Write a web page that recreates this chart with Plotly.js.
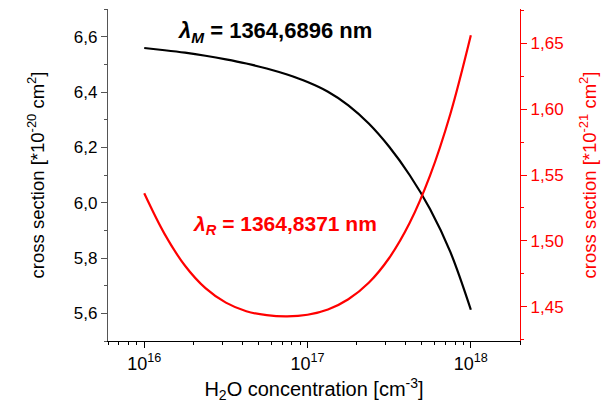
<!DOCTYPE html>
<html>
<head>
<meta charset="utf-8">
<script src="https://cdn.plot.ly/plotly-3.0.1.min.js"></script>
<style>html,body{margin:0;padding:0;background:#fff;}#chart{width:611px;height:404px;}</style>
</head>
<body>
<div id="chart"></div>
<script>
// H2O concentration [cm^-3]
const concentration = [1e16, 1.334e16, 1.778e16, 2.371e16, 3.162e16, 4.217e16, 5.623e16, 7.499e16,
  1e17, 1.334e17, 1.778e17, 2.371e17, 3.162e17, 4.217e17, 5.623e17, 7.499e17, 1e18];
// cross section at lambda_M [1e-20 cm^2] (left axis)
const sigmaM = [6.559, 6.551, 6.542, 6.531, 6.518, 6.503, 6.485, 6.463,
  6.436, 6.401, 6.352, 6.286, 6.202, 6.100, 5.977, 5.821, 5.613];
// cross section at lambda_R [1e-21 cm^2] (right axis)
const sigmaR = [1.5361, 1.5051, 1.4811, 1.4641, 1.4531, 1.4466, 1.4436, 1.4427,
  1.4439, 1.4479, 1.4557, 1.4682, 1.4870, 1.5135, 1.5495, 1.5965, 1.656];

const xTickVals = [1e16, 1e17, 1e18];
const xTickText = ['10<sup>16</sup>', '10<sup>17</sup>', '10<sup>18</sup>'];
const labelM = '<i>λ<sub>M</sub></i> = 1364,6896 nm';
const labelR = '<i>λ<sub>R</sub></i> = 1364,8371 nm';

const minorX = [];
[15, 16, 17, 18].forEach(function (e) {
  for (let m = 2; m <= 9; m++) {
    const v = m * Math.pow(10, e);
    if (v >= 6e15 && v <= 2e18) minorX.push(v);
  }
});

const font = 'Liberation Sans, Arial, sans-serif';

const traces = [
  {x: concentration, y: sigmaM, type: 'scatter', mode: 'lines',
   line: {color: '#000000', width: 2.2, shape: 'spline', smoothing: 1}, yaxis: 'y', hoverinfo: 'none'},
  {x: concentration, y: sigmaR, type: 'scatter', mode: 'lines',
   line: {color: '#ff0000', width: 2.2, shape: 'spline', smoothing: 1}, yaxis: 'y2', hoverinfo: 'none'}
];

const layout = {
  width: 611, height: 404,
  margin: {l: 108, r: 91, t: 9, b: 63},
  paper_bgcolor: '#ffffff', plot_bgcolor: '#ffffff',
  separators: ', ',
  showlegend: false,
  font: {family: font, size: 17, color: '#000'},
  xaxis: {
    type: 'log', range: [Math.log10(6e15), Math.log10(2e18)],
    tickvals: xTickVals, ticktext: xTickText,
    ticks: 'outside', ticklen: 6, tickwidth: 1, tickcolor: '#000',
    showline: true, linecolor: '#000', linewidth: 1.2,
    showgrid: false, zeroline: false,
    tickfont: {family: font, size: 18, color: '#000'},
    minor: {tickvals: minorX, ticks: 'outside', ticklen: 3, tickcolor: '#000', showgrid: false},
    title: {text: 'H<sub>2</sub>O concentration [cm<sup>-3</sup>]', font: {family: font, size: 20, color: '#000'}, standoff: 9}
  },
  yaxis: {
    range: [5.5, 6.7], tick0: 5.6, dtick: 0.2, tickformat: '.1f',
    ticks: 'outside', ticklen: 6, tickwidth: 1, tickcolor: '#555',
    showline: true, linecolor: '#555', linewidth: 1.2,
    showgrid: false, zeroline: false,
    tickfont: {family: font, size: 17, color: '#000'},
    minor: {dtick: 0.1, tick0: 5.5, ticks: 'outside', ticklen: 3, tickcolor: '#555', showgrid: false},
    title: {text: 'cross section [*10<sup>-20</sup> cm<sup>2</sup>]', font: {family: font, size: 18.5, color: '#000'}, standoff: 24}
  },
  yaxis2: {
    overlaying: 'y', side: 'right', anchor: 'x',
    range: [1.424, 1.676], tick0: 1.45, dtick: 0.05, tickformat: '.2f',
    ticks: 'outside', ticklen: 6, tickwidth: 1, tickcolor: '#ff0000',
    showline: true, linecolor: '#ff0000', linewidth: 1.2,
    showgrid: false, zeroline: false,
    tickfont: {family: font, size: 17, color: '#ff0000'},
    minor: {dtick: 0.025, tick0: 1.425, ticks: 'outside', ticklen: 3, tickcolor: '#ff0000', showgrid: false},
    title: {text: 'cross section [*10<sup>-21</sup> cm<sup>2</sup>]', font: {family: font, size: 18.5, color: '#ff0000'}, standoff: 20}
  },
  annotations: [
    {xref: 'paper', yref: 'paper', x: 0.405, y: 0.98, text: '<b>' + labelM + '</b>', showarrow: false,
     font: {family: font, size: 22, color: '#000'}},
    {xref: 'paper', yref: 'paper', x: 0.43, y: 0.349, text: '<b>' + labelR + '</b>', showarrow: false,
     font: {family: font, size: 21, color: '#ff0000'}}
  ]
};

Plotly.newPlot('chart', traces, layout, {displayModeBar: false, staticPlot: true});
</script>
</body>
</html>
